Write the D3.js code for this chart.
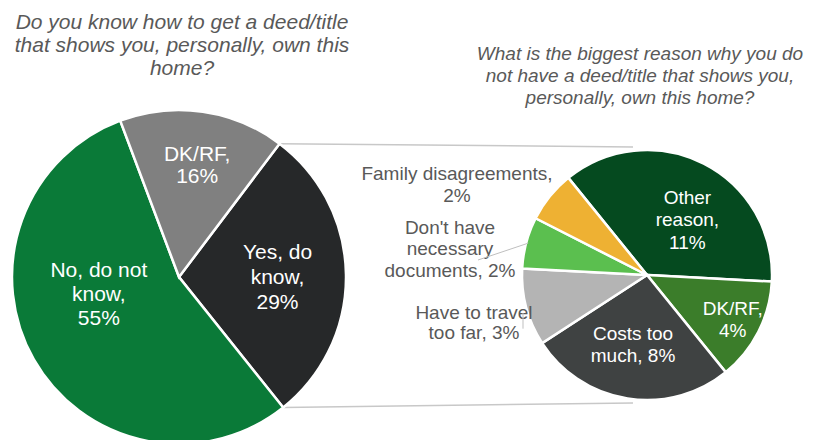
<!DOCTYPE html>
<html>
<head>
<meta charset="utf-8">
<script src="https://cdn.jsdelivr.net/npm/d3@7"></script>
<style>
  html, body { margin: 0; padding: 0; background: #ffffff; }
  svg { display: block; font-family: "Liberation Sans", Arial, sans-serif; }
</style>
</head>
<body>
<svg id="chart" width="819" height="440"></svg>
<script>
// Question 1: do respondents know how to get a deed/title
const mainCategories = ["Yes, do know", "No, do not know", "DK/RF"];
const mainValues = [29, 55, 16];
const mainLabels = [["Yes, do", "know,", "29%"], ["No, do not", "know,", "55%"], ["DK/RF,", "16%"]];
const mainColors = ["#262829", "#0a7a38", "#808080"];

// Question 2: biggest reason for not having a deed/title
const reasonCategories = ["Other reason", "DK/RF", "Costs too much", "Have to travel too far",
  "Don't have necessary documents", "Family disagreements"];
const reasonValues = [11, 4, 8, 3, 2, 2];
const reasonLabels = [["Other", "reason,", "11%"], ["DK/RF,", "4%"], ["Costs too", "much, 8%"],
  ["Have to travel", "too far, 3%"], ["Don't have", "necessary", "documents, 2%"], ["Family disagreements,", "2%"]];
const reasonColors = ["#054a1f", "#3b7d2a", "#3f4242", "#b4b4b4", "#5bbf4f", "#eeb133"];

const leftTitle = ["Do you know how to get a deed/title", "that shows you, personally, own this", "home?"];
const rightTitle = ["What is the biggest reason why you do", "not have a deed/title that shows you,", "personally, own this home?"];

const svg = d3.select("#chart");
const deg = Math.PI / 180;
const textGrey = "#595959";

// ---------- geometry ----------
const big = { cx: 179, cy: 277, r: 167 };
const small = { cx: 647, cy: 275, r: 125 };

const bigPie = d3.pie().sort(null).value(d => d)
  .startAngle(37 * deg).endAngle(397 * deg);
const smallPie = d3.pie().sort(null).value(d => d)
  .startAngle(-39 * deg).endAngle(321 * deg);

const bigArcs = bigPie(mainValues);
const smallArcs = smallPie(reasonValues);

const bigArc = d3.arc().innerRadius(0).outerRadius(big.r);
const smallArc = d3.arc().innerRadius(0).outerRadius(small.r);

// point on a circle, angle measured clockwise from 12 o'clock
function polar(c, angle, radius) {
  return [c.cx + radius * Math.sin(angle), c.cy - radius * Math.cos(angle)];
}

// ---------- connector lines between the "Yes" slice and the breakdown pie ----------
const yesArc = bigArcs[0];
const topFrom = polar(big, yesArc.startAngle, big.r);
const botFrom = polar(big, yesArc.endAngle, big.r);
const connectors = svg.append("g").attr("fill", "none")
  .attr("stroke", "#c8c8c8").attr("stroke-width", 1.5);
connectors.append("line")
  .attr("x1", topFrom[0]).attr("y1", topFrom[1])
  .attr("x2", small.cx - 14).attr("y2", small.cy - small.r - 3);
connectors.append("line")
  .attr("x1", botFrom[0]).attr("y1", botFrom[1])
  .attr("x2", small.cx - 14).attr("y2", small.cy + small.r + 3);

// ---------- main pie ----------
const gBig = svg.append("g").attr("transform", `translate(${big.cx},${big.cy})`);
gBig.selectAll("path").data(bigArcs).join("path")
  .attr("d", bigArc)
  .attr("fill", (d, i) => mainColors[i])
  .attr("stroke", "#ffffff").attr("stroke-width", 2.5);

// label placement: angle offset from slice middle (deg), radius fraction, line height
const bigLabelPos = [
  { da: 0.5, rf: 0.59, lh: 25 },
  { da: 18, rf: 0.49, lh: 24 },
  { da: 1, rf: 0.68, lh: 22 }
];
bigArcs.forEach((a, i) => {
  const mid = (a.startAngle + a.endAngle) / 2 + bigLabelPos[i].da * deg;
  const [x, y] = polar(big, mid, big.r * bigLabelPos[i].rf);
  const lines = mainLabels[i];
  const lh = bigLabelPos[i].lh;
  const t = svg.append("text")
    .attr("text-anchor", "middle").attr("fill", "#ffffff")
    .attr("font-size", 21);
  lines.forEach((s, k) => {
    t.append("tspan").attr("x", x)
      .attr("y", y + (k - (lines.length - 1) / 2) * lh + 7.5)
      .text(s);
  });
});

// ---------- breakdown pie ----------
const gSmall = svg.append("g").attr("transform", `translate(${small.cx},${small.cy})`);
gSmall.selectAll("path").data(smallArcs).join("path")
  .attr("d", smallArc)
  .attr("fill", (d, i) => reasonColors[i])
  .attr("stroke", "#ffffff").attr("stroke-width", 2.5);

// inside labels (first three slices) and outside labels (last three)
const smallLabelPos = [
  { da: 9, rf: 0.55, lh: 22.5, inside: true },
  { da: 0, rf: 0.77, lh: 22, inside: true },
  { da: 2.5, rf: 0.56, lh: 22, inside: true },
  { x: 474, y: 322, lh: 20.5 },
  { x: 450, y: 248, lh: 21.5 },
  { x: 457, y: 184, lh: 22 }
];
smallArcs.forEach((a, i) => {
  const p = smallLabelPos[i];
  let x, y;
  if (p.inside) {
    const mid = (a.startAngle + a.endAngle) / 2 + p.da * deg;
    [x, y] = polar(small, mid, small.r * p.rf);
  } else {
    x = p.x; y = p.y;
  }
  const lines = reasonLabels[i];
  const t = svg.append("text")
    .attr("text-anchor", "middle")
    .attr("fill", p.inside ? "#ffffff" : textGrey)
    .attr("font-size", 19);
  lines.forEach((s, k) => {
    t.append("tspan").attr("x", x)
      .attr("y", y + (k - (lines.length - 1) / 2) * p.lh + 7)
      .text(s);
  });
});

// leader lines for the two narrow outside slices
const leaders = svg.append("g").attr("stroke", "#bfbfbf").attr("stroke-width", 1).attr("fill", "none");
const docsEdge = polar(small, (smallArcs[4].startAngle + smallArcs[4].endAngle) / 2, small.r - 2);
leaders.append("line").attr("x1", 478).attr("y1", 260).attr("x2", docsEdge[0]).attr("y2", docsEdge[1]);
const travelEdge = polar(small, smallArcs[3].startAngle + 8 * deg, small.r + 2);
leaders.append("line").attr("x1", 523).attr("y1", 313).attr("x2", 523).attr("y2", travelEdge[1]);

// ---------- titles ----------
function title(lines, x, y0, size, lh) {
  const t = svg.append("text")
    .attr("text-anchor", "middle").attr("fill", textGrey)
    .attr("font-style", "italic").attr("font-size", size);
  lines.forEach((s, k) => {
    t.append("tspan").attr("x", x).attr("y", y0 + k * lh).text(s);
  });
}
title(leftTitle, 182, 29, 21, 23);
title(rightTitle, 640, 60, 19, 22);
</script>
</body>
</html>
